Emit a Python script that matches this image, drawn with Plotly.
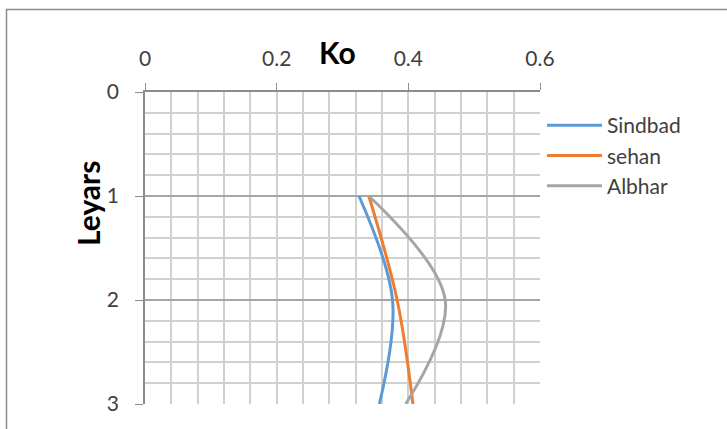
import plotly.graph_objects as go

# Layer depth (y) and Ko values per site (x)
layers = [1, 2, 3]
sindbad = [0.325, 0.376, 0.356]
sehan = [0.340, 0.383, 0.407]
albhar = [0.340, 0.456, 0.396]

series = [
    ("Sindbad", sindbad, "#5B9BD5"),
    ("sehan", sehan, "#ED7D31"),
    ("Albhar", albhar, "#A5A5A5"),
]

x_ticks = [0, 0.2, 0.4, 0.6]
x_tick_text = ["0", "0.2", "0.4", "0.6"]
y_ticks = [0, 1, 2, 3]

FONT = "Lato, Carlito, Calibri, sans-serif"

fig = go.Figure()
for name, vals, color in series:
    fig.add_trace(go.Scatter(
        x=vals, y=layers, name=name, mode="lines",
        line=dict(color=color, width=3, shape="spline", smoothing=1),
    ))

W, H = 727, 429
L, R, T, B = 145, 540, 92, 404

# pixel -> paper helpers
px = lambda v: (v - L) / (R - L)
py = lambda v: (B - v) / (B - T)

fig.update_layout(
    width=W, height=H,
    margin=dict(l=L, r=W - R, t=T, b=H - B, pad=0),
    paper_bgcolor="white", plot_bgcolor="white",
    font=dict(family=FONT, color="#404040", size=21),
    showlegend=True,
    legend=dict(
        x=1.005, y=py(105), xanchor="left", yanchor="top",
        font=dict(size=21, color="#404040"),
        tracegroupgap=0, itemwidth=55,
        bgcolor="rgba(0,0,0,0)",
    ),
    xaxis=dict(
        side="top", range=[0, 0.6], tickvals=x_ticks, ticktext=x_tick_text,
        showline=True, linecolor="#8C8C8C", linewidth=1.5,
        ticks="outside", ticklen=7, tickcolor="#8C8C8C",
        showgrid=True, gridcolor="#D0D0D0", gridwidth=1.5,
        minor=dict(dtick=0.04, showgrid=True, gridcolor="#D0D0D0", gridwidth=1.5, ticks=""),
        zeroline=False,
        ticklabelstandoff=9,
    ),
    yaxis=dict(
        range=[3, 0], tickvals=y_ticks,
        showline=True, linecolor="#8C8C8C", linewidth=1.5,
        ticks="outside", ticklen=8, tickcolor="#8C8C8C",
        showgrid=True, gridcolor="#A6A6A6", gridwidth=1.5,
        minor=dict(dtick=0.2, showgrid=True, gridcolor="#D0D0D0", gridwidth=1.5, ticks=""),
        zeroline=False,
        ticklabelstandoff=12,
    ),
)

# Axis titles
fig.add_annotation(
    text="<b>Ko</b>", xref="paper", yref="paper", x=px(337), y=py(52),
    showarrow=False, font=dict(size=30, color="#000000", family=FONT),
    xanchor="center", yanchor="middle",
)
fig.add_annotation(
    text="<b>Leyars</b>", xref="paper", yref="paper", x=px(88), y=py(204),
    showarrow=False, textangle=-90, font=dict(size=30, color="#000000", family=FONT),
    xanchor="center", yanchor="middle",
)

# Outer chart frame (left and top edges)
fig.add_shape(
    type="path", xref="paper", yref="paper",
    path=f"M {px(6.5)} {py(432)} L {px(6.5)} {py(9.5)} L {px(730)} {py(9.5)}",
    line=dict(color="#8C8C8C", width=1.5),
)

fig.write_html("out.html")
